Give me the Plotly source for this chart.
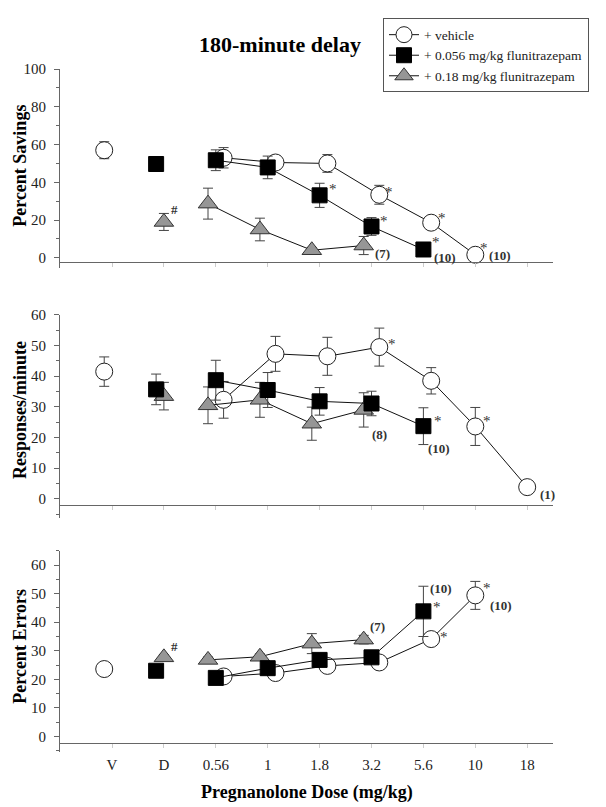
import plotly.graph_objects as go

W, H = 606, 807
FONT = "Liberation Serif"

CATEGORIES = ["V", "D", "0.56", "1", "1.8", "3.2", "5.6", "10", "18"]

# ---------------- Percent Savings ----------------
SAV_VEH_V, SAV_VEH_V_ERR = [57.0], [4.5]
SAV_VEH_DOSES = ["0.56", "1", "1.8", "3.2", "5.6", "10"]
SAV_VEH = [53.0, 50.5, 50.0, 33.4, 18.6, 1.6]
SAV_VEH_ERR = [5.4, 3.5, 4.7, 5.0, 3.0, 1.5]
SAV_SQ_D, SAV_SQ_D_ERR = [49.7], [1.5]
SAV_SQ_DOSES = ["0.56", "1", "1.8", "3.2", "5.6"]
SAV_SQ = [51.7, 47.9, 33.1, 16.6, 4.4]
SAV_SQ_ERR = [5.5, 6.0, 6.4, 4.7, 2.0]
SAV_TRI_D, SAV_TRI_D_ERR = [19.0], [4.5]
SAV_TRI_DOSES = ["0.56", "1", "1.8", "3.2"]
SAV_TRI = [28.7, 15.0, 4.0, 6.5]
SAV_TRI_ERR = [8.2, 6.0, 1.5, 4.8]

# ---------------- Responses/minute ----------------
RATE_VEH_V, RATE_VEH_V_ERR = [41.5], [4.8]
RATE_VEH_DOSES = ["0.56", "1", "1.8", "3.2", "5.6", "10", "18"]
RATE_VEH = [32.3, 47.3, 46.5, 49.5, 38.5, 23.6, 3.8]
RATE_VEH_ERR = [6.0, 5.7, 6.2, 6.2, 4.3, 6.2, 0.0]
RATE_SQ_D, RATE_SQ_D_ERR = [35.7], [5.0]
RATE_SQ_DOSES = ["0.56", "1", "1.8", "3.2", "5.6"]
RATE_SQ = [38.7, 35.5, 31.8, 31.1, 23.7]
RATE_SQ_ERR = [6.5, 5.7, 4.5, 4.0, 6.0]
RATE_TRI_D, RATE_TRI_D_ERR = [33.5], [4.5]
RATE_TRI_DOSES = ["0.56", "1", "1.8", "3.2"]
RATE_TRI = [30.5, 32.3, 24.5, 29.0]
RATE_TRI_ERR = [6.0, 5.7, 5.4, 5.6]

# ---------------- Percent Errors ----------------
ERR_VEH_V, ERR_VEH_V_ERR = [23.6], [1.0]
ERR_VEH_DOSES = ["0.56", "1", "1.8", "3.2", "5.6", "10"]
ERR_VEH = [21.0, 22.2, 24.7, 25.9, 34.1, 49.4]
ERR_VEH_ERR = [1.0, 1.0, 1.5, 1.0, 1.5, 4.9]
ERR_SQ_D, ERR_SQ_D_ERR = [23.0], [1.0]
ERR_SQ_DOSES = ["0.56", "1", "1.8", "3.2", "5.6"]
ERR_SQ = [20.5, 23.9, 26.8, 27.7, 43.8]
ERR_SQ_ERR = [1.0, 1.5, 2.2, 1.0, 8.8]
ERR_TRI_D, ERR_TRI_D_ERR = [27.7], [1.0]
ERR_TRI_DOSES = ["0.56", "1", "1.8", "3.2"]
ERR_TRI = [26.8, 27.9, 32.5, 33.9]
ERR_TRI_ERR = [1.0, 1.0, 3.5, 1.5]

SERIES_NAMES = {"veh": "+ vehicle", "sq": "+ 0.056 mg/kg flunitrazepam", "tri": "+ 0.18 mg/kg flunitrazepam"}
Y_TITLES = ["Percent Savings", "Responses/minute", "Percent Errors"]

DATA = [
    {"veh": (["V"], SAV_VEH_V, SAV_VEH_V_ERR, SAV_VEH_DOSES, SAV_VEH, SAV_VEH_ERR),
     "sq": (["D"], SAV_SQ_D, SAV_SQ_D_ERR, SAV_SQ_DOSES, SAV_SQ, SAV_SQ_ERR),
     "tri": (["D"], SAV_TRI_D, SAV_TRI_D_ERR, SAV_TRI_DOSES, SAV_TRI, SAV_TRI_ERR)},
    {"veh": (["V"], RATE_VEH_V, RATE_VEH_V_ERR, RATE_VEH_DOSES, RATE_VEH, RATE_VEH_ERR),
     "sq": (["D"], RATE_SQ_D, RATE_SQ_D_ERR, RATE_SQ_DOSES, RATE_SQ, RATE_SQ_ERR),
     "tri": (["D"], RATE_TRI_D, RATE_TRI_D_ERR, RATE_TRI_DOSES, RATE_TRI, RATE_TRI_ERR)},
    {"veh": (["V"], ERR_VEH_V, ERR_VEH_V_ERR, ERR_VEH_DOSES, ERR_VEH, ERR_VEH_ERR),
     "sq": (["D"], ERR_SQ_D, ERR_SQ_D_ERR, ERR_SQ_DOSES, ERR_SQ, ERR_SQ_ERR),
     "tri": (["D"], ERR_TRI_D, ERR_TRI_D_ERR, ERR_TRI_DOSES, ERR_TRI, ERR_TRI_ERR)},
]

# ---------------- layout geometry (pixels) ----------------
X_LEFT_PX, X_RIGHT_PX = 59, 553
CAT0_PX, CAT8_PX = 112, 527.2
PANELS = [
    dict(ref_px=61.7, ref_val=100, zero_px=252.3, top_px=61.7, xline_px=257, bot_px=263, dtick=20, minor=10),
    dict(ref_px=310, ref_val=60, zero_px=495.7, top_px=310, xline_px=502, bot_px=515, dtick=10, minor=5),
    dict(ref_px=562.7, ref_val=60, zero_px=735.7, top_px=548.3, xline_px=742, bot_px=751.7, dtick=10, minor=5),
]

STYLE = {
    "veh": dict(symbol="circle", size=17, color="white", line=dict(color="#222", width=1)),
    "sq": dict(symbol="square", size=15, color="black", line=dict(color="black", width=1)),
    "tri": dict(symbol="triangle-up", size=17, color="#969696", line=dict(color="#333", width=1)),
}
RANK = {"veh": 1, "sq": 2, "tri": 3}


def xoff(series, cat, panel):
    if cat in ("V", "D"):
        return {"veh": -0.15, "sq": -0.15, "tri": 0.0}[series]
    if series == "veh":
        others = DATA[panel]["sq"][3] + DATA[panel]["tri"][3]
        return 0.15 if cat in others else 0.0
    return {"sq": 0.0, "tri": -0.15}[series]


def xpos(series, cat, panel):
    return CATEGORIES.index(cat) + xoff(series, cat, panel)


def value_of(panel, series, cat):
    d = DATA[panel][series]
    if cat in d[0]:
        return d[1][d[0].index(cat)]
    return d[4][d[3].index(cat)]


fig = go.Figure()
for p in range(3):
    xa = "x" if p == 0 else f"x{p+1}"
    ya = "y" if p == 0 else f"y{p+1}"
    for s in ["veh", "tri", "sq"]:
        cats1, v1, e1, cats, vals, errs = DATA[p][s]
        st = STYLE[s]
        marker = dict(symbol=st["symbol"], size=st["size"], color=st["color"], line=st["line"])
        eb = dict(type="data", array=None, visible=True, color="#444", thickness=1, width=5)
        fig.add_trace(go.Scatter(
            x=[xpos(s, c, p) for c in cats1], y=v1, mode="markers", marker=marker,
            error_y={**eb, "array": e1}, xaxis=xa, yaxis=ya, showlegend=False, hoverinfo="skip"))
        fig.add_trace(go.Scatter(
            x=[xpos(s, c, p) for c in cats], y=vals, mode="lines+markers", marker=marker,
            line=dict(color="#111", width=1), error_y={**eb, "array": errs},
            xaxis=xa, yaxis=ya, name=SERIES_NAMES[s], showlegend=(p == 0),
            legendrank=RANK[s], hoverinfo="skip"))

xunit = (CAT8_PX - CAT0_PX) / 8
xrange = [(X_LEFT_PX - CAT0_PX) / xunit, (X_RIGHT_PX - CAT0_PX) / xunit]
layout = {}
for p, P in enumerate(PANELS):
    scale = (P["zero_px"] - P["ref_px"]) / P["ref_val"]
    yr = [-(P["bot_px"] - P["zero_px"]) / scale, (P["zero_px"] - P["top_px"]) / scale]
    sfx = "" if p == 0 else str(p + 1)
    layout[f"xaxis{sfx}"] = dict(
        domain=[X_LEFT_PX / W, X_RIGHT_PX / W], range=xrange, anchor="free",
        position=1 - P["xline_px"] / H, showline=True, linecolor="#666", linewidth=1,
        showgrid=False, zeroline=False, tickmode="array", tickvals=list(range(9)),
        ticktext=CATEGORIES, showticklabels=(p == 2), ticks="outside", ticklen=4,
        tickcolor="#ccc", ticklabelstandoff=4, tickfont=dict(family=FONT, size=15, color="#222"))
    layout[f"yaxis{sfx}"] = dict(
        domain=[1 - P["bot_px"] / H, 1 - P["top_px"] / H], range=yr, anchor="free",
        position=X_LEFT_PX / W, showline=True, linecolor="#666", linewidth=1,
        showgrid=False, zeroline=False, tick0=0, dtick=P["dtick"], ticks="outside",
        ticklen=5, tickcolor="#666", ticklabelstandoff=5,
        tickfont=dict(family=FONT, size=15, color="#222"),
        minor=dict(dtick=P["minor"], ticks="outside", ticklen=3, tickcolor="#666", showgrid=False))

annotations = []
# title and axis titles
annotations.append(dict(text="<b>180-minute delay</b>", x=280 / W, y=1 - 37 / H, xref="paper", yref="paper",
                        xanchor="center", yanchor="middle", showarrow=False,
                        font=dict(family=FONT, size=22, color="black")))
annotations.append(dict(text="<b>Pregnanolone Dose (mg/kg)</b>", x=307 / W, y=1 - 792 / H, xref="paper",
                        yref="paper", xanchor="center", yanchor="middle", showarrow=False,
                        font=dict(family=FONT, size=18, color="black")))
for p, P in enumerate(PANELS):
    annotations.append(dict(text=f"<b>{Y_TITLES[p]}</b>", x=20 / W,
                            y=1 - ((P["top_px"] + P["xline_px"]) / 2) / H, xref="paper", yref="paper",
                            xanchor="center", yanchor="middle",
                            textangle=-90, showarrow=False, font=dict(family=FONT, size=18, color="black")))

# significance marks and n labels: (panel, series, category, text, dx px, dy px)
MARKS = [
    (0, "tri", "D", "#", 11, 12), (0, "sq", "1.8", "*", 13, 9), (0, "sq", "3.2", "*", 12, 8),
    (0, "sq", "5.6", "*", 13, 10), (0, "veh", "3.2", "*", 10, 6), (0, "veh", "5.6", "*", 11, 8),
    (0, "veh", "10", "*", 9, 10), (0, "tri", "3.2", "(7)", 19, -8), (0, "sq", "5.6", "(10)", 22, -8),
    (0, "veh", "10", "(10)", 25, -1),
    (1, "veh", "3.2", "*", 13, 6), (1, "sq", "5.6", "*", 15, 8), (1, "veh", "10", "*", 12, 8),
    (1, "tri", "3.2", "(8)", 16, -25), (1, "sq", "5.6", "(10)", 16, -22), (1, "veh", "18", "(1)", 20, -7),
    (2, "tri", "D", "#", 11, 11), (2, "tri", "3.2", "(7)", 14, 13), (2, "sq", "5.6", "(10)", 18, 23),
    (2, "sq", "5.6", "*", 14, 7), (2, "veh", "5.6", "*", 13, 5), (2, "veh", "10", "*", 12, 10),
    (2, "veh", "10", "(10)", 26, -10),
]
for p, s, c, t, dx, dy in MARKS:
    sfx = "" if p == 0 else str(p + 1)
    if t == "*":
        txt, size, dy = "*", 15, dy - 3
    else:
        txt, size = f"<b>{t}</b>", 13
    annotations.append(dict(text=txt, x=xpos(s, c, p), y=value_of(p, s, c), xref=f"x{sfx}", yref=f"y{sfx}",
                            xshift=dx, yshift=dy, showarrow=False, xanchor="center", yanchor="middle",
                            font=dict(family=FONT, size=size, color="#333")))

fig.update_layout(
    width=W, height=H, margin=dict(l=0, r=0, t=0, b=0), autosize=False,
    paper_bgcolor="white", plot_bgcolor="white", annotations=annotations,
    legend=dict(x=383 / W, y=1 - 10.5 / H, xanchor="left", yanchor="top", bgcolor="white",
                bordercolor="#555", borderwidth=1, traceorder="normal", tracegroupgap=0,
                font=dict(family=FONT, size=13.5, color="#222"), itemsizing="trace"),
    **layout)

fig.write_html("out.html", config={"displayModeBar": False},
               post_script="document.body.style.margin='0';document.body.style.overflow='hidden';")
